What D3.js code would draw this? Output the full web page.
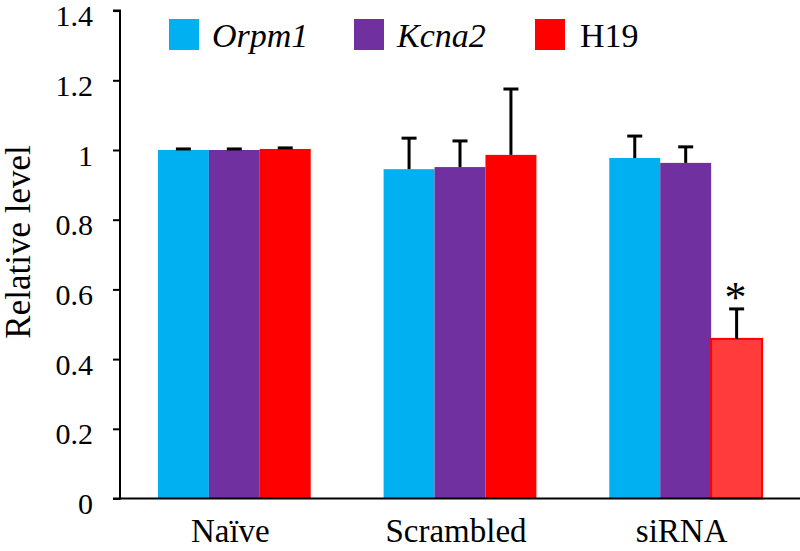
<!DOCTYPE html>
<html>
<head>
<meta charset="utf-8">
<script src="https://cdn.jsdelivr.net/npm/d3@7"></script>
<style>
  body { margin: 0; background: #fff; }
  svg text { fill: #000; }
</style>
</head>
<body>
<div id="chart"></div>
<script>
// groups on the x axis
var groups = ["Naïve", "Scrambled", "siRNA"];
// series (genes)
var series = ["Orpm1", "Kcna2", "H19"];
var seriesItalic = [true, true, false];
var colors = ["#00B0F0", "#7030A0", "#FF0000"];

// mean values per group, one array per series
var orpm1Values = [1.0, 0.945, 0.977];
var kcna2Values = [1.0, 0.951, 0.963];
var h19Values   = [1.003, 0.986, 0.458];

// error bar (upper) sizes
var orpm1Err = [0.003, 0.089, 0.063];
var kcna2Err = [0.003, 0.075, 0.046];
var h19Err   = [0.003, 0.189, 0.086];

var yTicks = [0, 0.2, 0.4, 0.6, 0.8, 1, 1.2, 1.4];

var serif = "'Liberation Serif', Tinos, 'Times New Roman', Times, 'Noto Serif', 'DejaVu Serif', serif";
var width = 800, height = 551;
var margin = { top: 10, right: 0, bottom: 53, left: 120 };
var baseY = 498.5;

var svg = d3.select("#chart").append("svg")
    .attr("width", width)
    .attr("height", height);

// Scales
var x0 = d3.scaleBand()
    .domain(groups)
    .range([margin.left, width])
    .paddingInner(0.323)
    .paddingOuter(0.168);

var x1 = d3.scaleBand()
    .domain(series)
    .range([0, x0.bandwidth()])
    .padding(0);

var y = d3.scaleLinear()
    .domain([0, 1.4])
    .range([baseY, baseY - 1.4 * 348.5]);

// build rows from the arrays
var valueSets = [orpm1Values, kcna2Values, h19Values];
var errSets = [orpm1Err, kcna2Err, h19Err];
var rows = [];
groups.forEach(function(g, gi){
    series.forEach(function(s, si){
        rows.push({ group: g, series: s, si: si, value: valueSets[si][gi], err: errSets[si][gi] });
    });
});

// Bars
svg.selectAll("rect.bar")
    .data(rows)
    .enter().append("rect")
    .attr("class", "bar")
    .attr("x", function(d){ return x0(d.group) + x1(d.series); })
    .attr("y", function(d){ return y(d.value); })
    .attr("width", x1.bandwidth())
    .attr("height", function(d){ return baseY - y(d.value); })
    .attr("fill", function(d){
        // the knocked-down H19 bar is drawn lighter with a red outline
        if (d.group === "siRNA" && d.series === "H19") return "#FF3B3B";
        return colors[d.si];
    })
    .attr("stroke", function(d){
        return (d.group === "siRNA" && d.series === "H19") ? "#FF0000" : "none";
    })
    .attr("stroke-width", 2);

// Error bars (upper only)
var eb = svg.selectAll("g.err")
    .data(rows)
    .enter().append("g")
    .attr("class", "err")
    .attr("transform", function(d){
        return "translate(" + (x0(d.group) + x1(d.series) + x1.bandwidth() / 2) + ",0)";
    });

eb.append("line")
    .attr("x1", 0).attr("x2", 0)
    .attr("y1", function(d){ return y(d.value); })
    .attr("y2", function(d){ return y(d.value + d.err); })
    .attr("stroke", "#000")
    .attr("stroke-width", 3);

eb.append("line")
    .attr("x1", -7.5).attr("x2", 7.5)
    .attr("y1", function(d){ return y(d.value + d.err); })
    .attr("y2", function(d){ return y(d.value + d.err); })
    .attr("stroke", "#000")
    .attr("stroke-width", 3);

// significance marker
svg.append("text")
    .attr("x", x0("siRNA") + x1("H19") + x1.bandwidth() / 2 - 1)
    .attr("y", y(h19Values[2] + h19Err[2]) + 3)
    .attr("text-anchor", "middle")
    .style("font-family", serif)
    .style("font-size", "44px")
    .text("*");

// Y axis
var yAxis = d3.axisLeft(y)
    .tickValues(yTicks)
    .tickFormat(function(d){ return d3.format("")(+d.toFixed(1)); })
    .tickSize(7)
    .tickPadding(20);

var gy = svg.append("g")
    .attr("transform", "translate(" + margin.left + ",0)")
    .call(yAxis)
    .attr("font-family", null);
gy.select(".domain").attr("stroke", "#000").attr("stroke-width", 2)
    .attr("d", "M-7," + baseY + "H0V" + y(1.4) + "H-7");
gy.selectAll(".tick line").attr("stroke", "#000").attr("stroke-width", 2);
gy.selectAll(".tick text")
    .style("font-family", serif)
    .style("font-size", "30px")
    .attr("dy", "0.5em");

// X axis line
svg.append("line")
    .attr("x1", margin.left).attr("x2", width)
    .attr("y1", baseY).attr("y2", baseY)
    .attr("stroke", "#000")
    .attr("stroke-width", 2);

// X labels
svg.selectAll("text.xlab")
    .data(groups)
    .enter().append("text")
    .attr("class", "xlab")
    .attr("x", function(d){ return x0(d) + x0.bandwidth() / 2 - 4; })
    .attr("y", 542)
    .attr("text-anchor", "middle")
    .style("font-family", serif)
    .style("font-size", "33px")
    .text(function(d){ return d; });

// Y title
svg.append("text")
    .attr("transform", "translate(30,242) rotate(-90)")
    .attr("text-anchor", "middle")
    .style("font-family", serif)
    .style("font-size", "35px")
    .text("Relative level");

// Legend
var legendX = [169, 354, 535];
var lg = svg.selectAll("g.legend")
    .data(series)
    .enter().append("g")
    .attr("class", "legend")
    .attr("transform", function(d, i){ return "translate(" + legendX[i] + ",19)"; });

lg.append("rect")
    .attr("width", 30)
    .attr("height", 31)
    .attr("fill", function(d, i){ return colors[i]; });

lg.append("text")
    .attr("x", function(d, i){ return seriesItalic[i] ? 43 : 45; })
    .attr("y", 28)
    .style("font-family", serif)
    .style("font-size", "34px")
    .style("font-style", function(d, i){ return seriesItalic[i] ? "italic" : "normal"; })
    .text(function(d){ return d; });
</script>
</body>
</html>
